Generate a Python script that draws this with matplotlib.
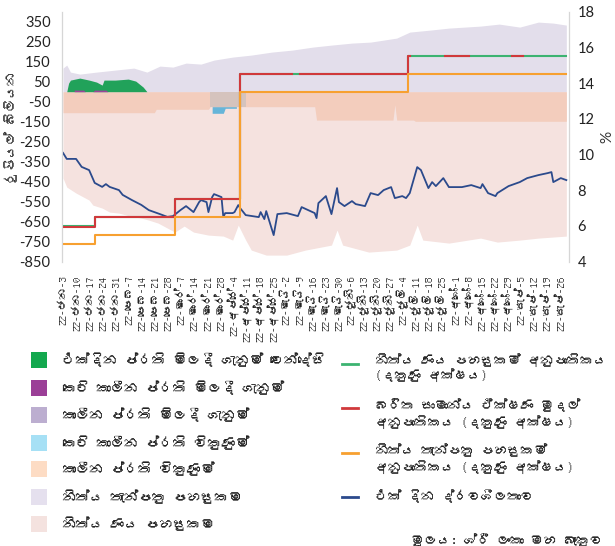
import numpy as np
import matplotlib
matplotlib.use("Agg")
import matplotlib.pyplot as plt
from matplotlib import font_manager as fm
from matplotlib.ft2font import FT2Font
from matplotlib.patches import Rectangle
from matplotlib.lines import Line2D

# ---------------- font with Sinhala glyphs (if any) ----------------
sinhala_family = None
paths = set(fm.findSystemFonts()) | {f.fname for f in fm.fontManager.ttflist}
for p in sorted(paths):
    try:
        cm = FT2Font(p).get_charmap()
        if 0x0D9A in cm and 0x0DCF in cm:
            fm.fontManager.addfont(p)
            sinhala_family = fm.FontProperties(fname=p).get_name()
            break
    except Exception:
        pass
SIN = ([sinhala_family] if sinhala_family else []) + ['DejaVu Sans']
NUM = ['Lato', 'DejaVu Sans']

def D(lst):
    return np.array(lst, dtype='datetime64[D]')

def S(t):
    # the zero-width joiner has no glyph in the available font; drop it for drawing
    return t.replace('\u200d', '')

# ---------------- data ----------------
# Overnight liquidity (left axis, Rs. bn)
liq_dates = D(['2022-01-03','2022-01-05','2022-01-10','2022-01-13','2022-01-17','2022-01-20','2022-01-24',
    '2022-01-26','2022-01-28','2022-02-02','2022-02-04','2022-02-09','2022-02-14','2022-02-18','2022-02-24',
    '2022-02-28','2022-03-03','2022-03-07','2022-03-10','2022-03-14','2022-03-17','2022-03-18','2022-03-21',
    '2022-03-22','2022-03-24','2022-03-25','2022-03-29','2022-03-30','2022-03-31','2022-04-04','2022-04-05',
    '2022-04-07','2022-04-08','2022-04-11','2022-04-18','2022-04-19','2022-04-21','2022-04-22','2022-04-26',
    '2022-04-28','2022-05-03','2022-05-09','2022-05-11','2022-05-18','2022-05-19','2022-05-20','2022-05-24',
    '2022-05-27','2022-05-30','2022-05-31','2022-06-03','2022-06-07','2022-06-09','2022-06-14','2022-06-17',
    '2022-06-21','2022-06-24','2022-06-28','2022-06-30','2022-07-04','2022-07-06','2022-07-08','2022-07-12',
    '2022-07-14','2022-07-18','2022-07-20','2022-07-22','2022-07-26','2022-07-29','2022-08-05','2022-08-10',
    '2022-08-15','2022-08-16','2022-08-19','2022-08-23','2022-08-24','2022-08-30','2022-09-05','2022-09-09',
    '2022-09-15','2022-09-20','2022-09-22','2022-09-23','2022-09-27','2022-09-30'])
liq_vals = [-306,-336,-336,-376,-392,-456,-476,-462,-476,-492,-516,-542,-566,-592,-612,-626,-622,-592,-572,
    -602,-552,-542,-552,-602,-527,-512,-527,-627,-607,-607,-602,-567,-582,-617,-627,-602,-637,-597,-717,-612,
    -607,-622,-577,-607,-632,-557,-522,-612,-482,-552,-572,-547,-562,-572,-507,-517,-492,-477,-532,-522,-532,
    -507,-377,-392,-482,-452,-472,-432,-477,-477,-467,-482,-462,-507,-522,-507,-472,-452,-432,-417,-407,-402,
    -452,-432,-442]

# Standing lending facility (negative area)
slf_dates = D(['2022-01-03','2022-01-05','2022-01-10','2022-01-14','2022-01-17','2022-01-19','2022-01-24',
    '2022-01-28','2022-02-02','2022-02-08','2022-02-14','2022-02-18','2022-02-23','2022-02-28','2022-03-04',
    '2022-03-09','2022-03-14','2022-03-22','2022-03-30','2022-04-04','2022-04-07','2022-04-11','2022-04-14',
    '2022-04-22','2022-05-03','2022-05-13','2022-05-27','2022-05-30','2022-06-02','2022-06-16','2022-07-01',
    '2022-07-08','2022-07-12','2022-07-15','2022-07-29','2022-08-15','2022-08-24','2022-09-05','2022-09-15',
    '2022-09-30'])
slf_vals = [-432,-477,-507,-527,-542,-567,-582,-602,-607,-622,-632,-642,-657,-682,-702,-672,-702,-717,-722,
    -742,-667,-742,-792,-817,-817,-792,-767,-692,-767,-802,-792,-767,-667,-742,-757,-732,-752,-742,-732,-722]

# Standing deposit facility (positive area)
sdf_dates = D(['2022-01-03','2022-01-05','2022-01-07','2022-01-12','2022-01-21','2022-01-31','2022-02-10',
    '2022-02-17','2022-02-24','2022-03-03','2022-03-10','2022-03-18','2022-03-25','2022-04-04','2022-04-14',
    '2022-04-25','2022-05-06','2022-05-17','2022-05-27','2022-06-07','2022-06-17','2022-07-01','2022-07-08',
    '2022-07-19','2022-07-29','2022-08-15','2022-08-25','2022-09-05','2022-09-15','2022-09-23','2022-09-30'])
sdf_vals = [118,133,98,88,98,108,118,98,128,123,143,138,158,173,183,198,208,223,233,243,248,268,298,308,318,
    328,338,323,348,343,333]

# Term reverse repo (negative area)
trr_dates = D(['2022-01-03','2022-02-21','2022-02-22','2022-03-22','2022-03-23','2022-05-18','2022-05-19',
    '2022-06-29','2022-06-30','2022-07-01','2022-07-10','2022-07-11','2022-09-30'])
trr_vals = [-105,-105,-88,-88,-75,-75,-142,-142,-65,-142,-142,-148,-148]

# Term repo (overlapping block)
tr_dates = D(['2022-03-23','2022-04-11'])
tr_vals = [-75,-75]

# Short-term reverse repo
strr_dates = D(['2022-03-24','2022-03-30','2022-03-31','2022-04-06'])
strr_vals = [-108,-108,-83,-83]

# Overnight repo auctions (positive)
orp_dates = D(['2022-01-05','2022-01-06','2022-01-07','2022-01-12','2022-01-17','2022-01-21','2022-01-24',
    '2022-01-25','2022-01-31','2022-02-07','2022-02-11','2022-02-15','2022-02-17'])
orp_vals = [0,43,58,68,58,48,33,58,58,63,53,23,0]

# Short-term repo (positive)
str_dates = D(['2022-01-09','2022-01-14','2022-01-15','2022-01-19','2022-01-20','2022-01-26','2022-01-27'])
str_vals = [8,8,0,0,8,8,0]

# Policy-corridor rates (right axis, %)
rate_dates = D(['2022-01-03','2022-01-20','2022-03-04','2022-04-08','2022-07-07','2022-09-30'])
slfr_vals = [6.0,6.5,7.5,14.5,15.5,15.5]
sdfr_vals = [5.0,5.5,6.5,13.5,14.5,14.5]
awcmr_dates = D(['2022-01-03','2022-01-20','2022-03-04','2022-04-08','2022-05-06','2022-05-10','2022-07-07',
    '2022-07-08','2022-07-27','2022-08-09','2022-09-01','2022-09-07'])
awcmr_vals = [5.95,6.48,7.49,14.49,np.nan,14.49,15.5,np.nan,15.5,np.nan,15.5,np.nan]

# Tick labels
months = ['ජන','පෙබ','මාර්','අප්‍රේ','මැයි','ජූනි','ජූලි','අගෝ','සැප්']
days = [[3,10,17,24,31],[7,14,21,28],[7,14,21,28],[4,11,18,25],[2,9,16,23,30],[6,13,20,27],[4,11,18,25],
        [1,8,15,22,29],[5,12,19,26]]
tick_labels = [f'22-{m}-{d}' for m, ds in zip(months, days) for d in ds]
left_ticks = list(range(-850, 351, 100))
right_ticks = list(range(4, 19, 2))

legend_left = ['එක්දින ප්‍රති මිලදී ගැනුම් වෙන්දේසි', 'කෙටි කාලීන ප්‍රති මිලදී ගැනුම්', 'කාලීන ප්‍රති මිලදී ගැනුම්',
               'කෙටි කාලීන ප්‍රති විකුණුම්', 'කාලීන ප්‍රති විකුණුම්', 'නිත්‍ය තැන්පතු පහසුකම', 'නිත්‍ය ණය පහසුකම']
legend_right = [('නිත්‍ය ණය පහසුකම් අනුපාතිකය', '(දකුණු අක්ෂය)'),
                ('බරිත සාමාන්‍ය ඒක්ෂණ මුදල්', 'අනුපාතිකය (දකුණු අක්ෂය)'),
                ('නිත්‍ය තැන්පතු පහසුකම්', 'අනුපාතිකය (දකුණු අක්ෂය)'),
                ('එක් දින ද්‍රවශීලතාව', None)]

# ---------------- colours ----------------
c_orp, c_str, c_tr, c_strr, c_trr, c_sdf, c_slf = '#21a25a', '#9c4499', '#d5c3bd', '#66b5d9', '#f3cdbd', '#e3deeb', '#f5e2df'
lg_cols = ['#13a84e', '#9b3f97', '#bcaed0', '#a6e0f5', '#fddcc4', '#e5e0ee', '#f4e2df']
c_slfr, c_awcmr, c_sdfr, c_liq = '#3cb371', '#d0393b', '#f7a030', '#2b4a8c'

# ---------------- figure ----------------
W, H = 615, 546
fig = plt.figure(figsize=(W/100, H/100), dpi=100)
L, R, T, B = 61.7, 569.3, 11.7, 261.7
ax = fig.add_axes([L/W, 1-B/H, (R-L)/W, (B-T)/H])
ax2 = ax.twinx()

kw = dict(linewidth=0, antialiased=True)
ax.fill_between(slf_dates, slf_vals, 0, color=c_slf, zorder=1, **kw)
ax.fill_between(sdf_dates, sdf_vals, 0, color=c_sdf, zorder=1, **kw)
ax.fill_between(strr_dates, strr_vals, 0, color=c_strr, zorder=2, **kw)
ax.fill_between(trr_dates, trr_vals, 0, color=c_trr, zorder=3, **kw)
ax.fill_between(tr_dates, tr_vals, 0, color=c_tr, zorder=4, **kw)
ax.fill_between(orp_dates, orp_vals, 0, color=c_orp, zorder=4, **kw)
ax.fill_between(str_dates, str_vals, 0, color=c_str, zorder=5, **kw)
ax.plot(liq_dates, liq_vals, color=c_liq, lw=1.3, zorder=6)

ax2.step(rate_dates, slfr_vals, where='post', color=c_slfr, lw=1.5)
ax2.step(awcmr_dates, awcmr_vals, where='post', color=c_awcmr, lw=1.5)
ax2.step(rate_dates, sdfr_vals, where='post', color=c_sdfr, lw=1.5)

x0 = np.datetime64('2022-01-03') - np.timedelta64(17, 'h')
x1 = np.datetime64('2022-10-01') + np.timedelta64(14, 'h')
ax.set_xlim(x0, x1)
ax.set_ylim(-850, 400)
ax2.set_ylim(4, 18)
ax.set_yticks(left_ticks)
ax.set_yticklabels([str(v) for v in left_ticks], fontsize=10.5, family=NUM, color='#222222')
ax2.set_yticks(right_ticks)
ax2.set_yticklabels([str(v) for v in right_ticks], fontsize=10.5, family=NUM, color='#222222')
tick_pos = np.arange(np.datetime64('2022-01-03'), np.datetime64('2022-09-27'), np.timedelta64(7, 'D'))
ax.set_xticks(tick_pos)
ax.set_xticklabels([S(t) for t in tick_labels], rotation=90, fontsize=8, family=SIN, color='#222222',
                   va='top', ha='center')
ax.tick_params(axis='x', length=0, pad=10)
ax.tick_params(axis='y', length=0, pad=8)
ax2.tick_params(axis='y', length=0, pad=6)
for a in (ax, ax2):
    for s in ('top', 'bottom'):
        a.spines[s].set_visible(False)
    a.spines['left'].set_color('#d6d6d6')
    a.spines['right'].set_color('#d6d6d6')
    a.patch.set_alpha(0)

fig.text(11/W, 1-128/H, S('රුපියල් බිලියන'), rotation=90, ha='center', va='center', fontsize=9.5,
         family=SIN, color='#333333')
fig.text(607/W, 1-137/H, '%', rotation=90, ha='center', va='center', fontsize=11, family=NUM, color='#333333')

# ---------------- legend ----------------
ys = [360, 387.7, 415, 442.7, 469, 496.7, 524]
for y, col, txt in zip(ys, lg_cols, legend_left):
    fig.patches.append(Rectangle((31/W, 1-(y+8)/H), 16/W, 16/H, transform=fig.transFigure, color=col, lw=0))
    fig.text(62/W, 1-y/H, S(txt), ha='left', va='center', fontsize=10, family=SIN, color='#222222')

hy = [364, 408.3, 453, 496.7]
ty = [(360, 375.5), (405, 421.7), (450, 466.7), (496, None)]
for h, (l1, l2), (t1, t2), col in zip(hy, legend_right, ty, [c_slfr, c_awcmr, c_sdfr, c_liq]):
    fig.add_artist(Line2D([342/W, 358/W], [1-h/H, 1-h/H], transform=fig.transFigure, color=col, lw=2))
    fig.text(375/W, 1-t1/H, S(l1), ha='left', va='center', fontsize=9.5, family=SIN, color='#222222')
    if l2:
        fig.text(375/W, 1-t2/H, S(l2), ha='left', va='center', fontsize=9.5, family=SIN, color='#222222')

fig.text(603/W, 1-540/H, S('මූලය: ශ්‍රී ලංකා මහ බැංකුව'), ha='right', va='center', fontsize=9.5,
         family=SIN, color='#222222')

fig.savefig('out.png', dpi=100)
